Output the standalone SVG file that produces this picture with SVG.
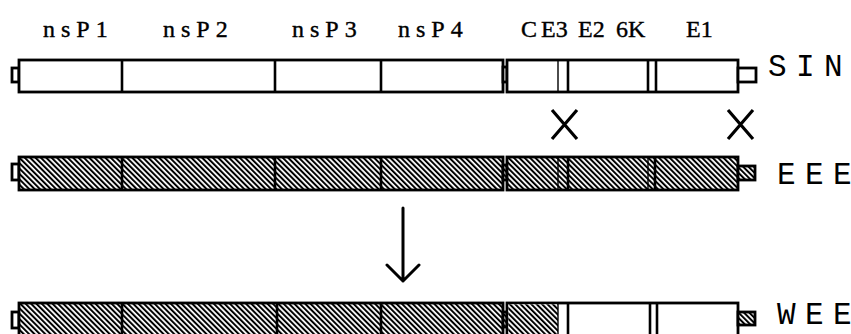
<svg xmlns="http://www.w3.org/2000/svg" width="851" height="334" viewBox="0 0 851 334">
<defs>
<pattern id="hatch" patternUnits="userSpaceOnUse" width="3.8" height="3.8" patternTransform="rotate(-45)">
<rect x="0" y="0" width="3.8" height="3.8" fill="#fff"/>
<rect x="0" y="0" width="2" height="3.8" fill="#000"/>
</pattern>
</defs>
<style>
.box{stroke:#000;stroke-width:2.8;}
.w{fill:#fff;}
.h{fill:url(#hatch);}
.div{stroke:#000;stroke-width:2.6;fill:none;}
.thin{stroke:#000;stroke-width:1.4;fill:none;}
.lbl{font-family:"Liberation Serif","Times New Roman",serif;font-size:24px;fill:#000;stroke:#000;stroke-width:0.4;}
.ns{letter-spacing:6px;}
.name{font-family:"Liberation Mono","Courier New",monospace;font-size:31px;fill:#000;}
.x{stroke:#000;stroke-width:3.2;fill:none;}
.arr{stroke:#000;stroke-width:3;fill:none;stroke-linecap:round;stroke-linejoin:round;}
</style>

<g id="labels">
<text class="lbl ns" x="43" y="37">nsP1</text>
<text class="lbl ns" x="163" y="37">nsP2</text>
<text class="lbl ns" x="292" y="37">nsP3</text>
<text class="lbl ns" x="398" y="37">nsP4</text>
<text class="lbl"><tspan x="521" y="37">C</tspan><tspan x="541" y="37">E3</tspan><tspan x="578" y="37">E2</tspan><tspan x="616" y="37">6K</tspan><tspan x="686" y="37">E1</tspan></text>
</g>

<g id="sin">
<rect class="box w" x="12" y="68" width="7" height="14"/>
<rect class="box w" x="19" y="60" width="484" height="32"/>
<line class="div" x1="122" y1="60" x2="122" y2="92"/>
<line class="div" x1="275" y1="60" x2="275" y2="92"/>
<line class="div" x1="381" y1="60" x2="381" y2="92"/>
<rect class="box w" x="503" y="67" width="4" height="15"/>
<rect class="box w" x="507" y="60" width="231" height="32"/>
<line class="thin" x1="558" y1="60" x2="558" y2="92"/>
<line class="div" x1="568" y1="60" x2="568" y2="92"/>
<line class="div" x1="648" y1="60" x2="648" y2="92"/>
<line class="div" x1="656" y1="60" x2="656" y2="92"/>
<rect class="box w" x="738" y="68" width="18" height="14"/>
<text class="name"><tspan x="768" y="76">S</tspan><tspan x="796" y="76">I</tspan><tspan x="824" y="76">N</tspan></text>
</g>

<g id="mutations">
<path class="x" d="M552 110 L577 139 M577 110 L552 139"/>
<path class="x" d="M728 110 L753 139 M753 110 L728 139"/>
</g>

<g id="eee">
<rect class="box w" x="12" y="164" width="7" height="16"/>
<rect class="box h" x="19" y="157" width="484" height="33"/>
<line class="div" x1="122" y1="157" x2="122" y2="190"/>
<line class="div" x1="275" y1="157" x2="275" y2="190"/>
<line class="div" x1="381" y1="157" x2="381" y2="190"/>
<rect class="box h" x="503" y="165" width="4" height="15"/>
<rect class="box h" x="507" y="157" width="231" height="33"/>
<line class="thin" x1="558" y1="157" x2="558" y2="190"/>
<line class="div" x1="568" y1="157" x2="568" y2="190"/>
<line class="thin" x1="648" y1="157" x2="648" y2="190"/>
<line class="div" x1="655" y1="157" x2="655" y2="190"/>
<rect class="box h" x="738" y="166" width="17" height="14"/>
<text class="name"><tspan x="777" y="184">E</tspan><tspan x="805" y="184">E</tspan><tspan x="833" y="184">E</tspan></text>
</g>

<g id="connectors">
<path class="arr" d="M403 208 L403 281 M387 265 L403 281 L419 265"/>
</g>

<g id="wee">
<rect class="box w" x="12" y="312" width="7" height="16"/>
<rect class="box h" x="19" y="303" width="484" height="34"/>
<line class="div" x1="122" y1="303" x2="122" y2="337"/>
<line class="div" x1="277" y1="303" x2="277" y2="337"/>
<line class="div" x1="381" y1="303" x2="381" y2="337"/>
<rect class="box h" x="503" y="312" width="4" height="15"/>
<rect class="box w" x="507" y="303" width="231" height="34"/>
<rect x="508.4" y="304.4" width="49.6" height="32" fill="url(#hatch)"/>
<line class="thin" x1="558" y1="303" x2="558" y2="337"/>
<line class="div" x1="568" y1="303" x2="568" y2="337"/>
<line class="div" x1="650" y1="303" x2="650" y2="337"/>
<line class="div" x1="657" y1="303" x2="657" y2="337"/>
<rect class="box h" x="738" y="312" width="17" height="13"/>
<text class="name"><tspan x="777" y="324">W</tspan><tspan x="805" y="324">E</tspan><tspan x="833" y="324">E</tspan></text>
</g>
</svg>
